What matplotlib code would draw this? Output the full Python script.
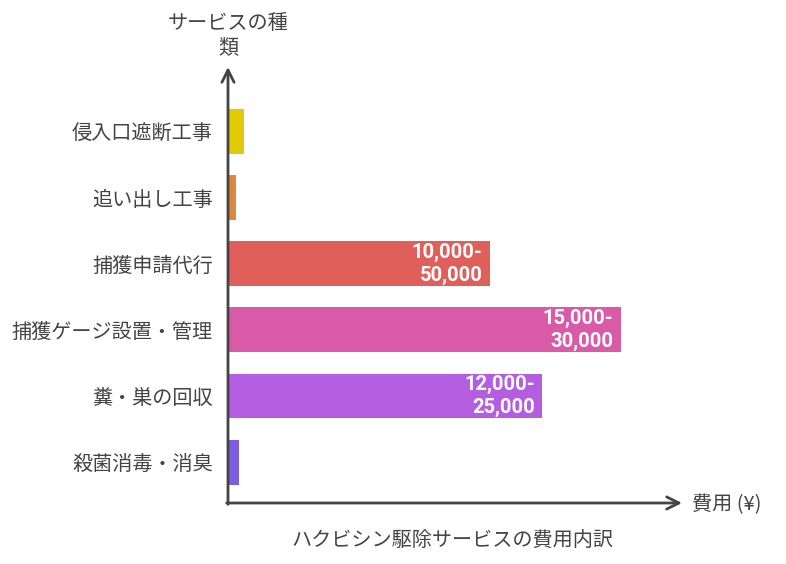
#!/usr/bin/env python

# ハクビシン駆除サービスの費用内訳 - horizontal bar chart with arrow axes

import matplotlib
matplotlib.use("Agg")
import matplotlib.pyplot as plt

plt.rcParams['font.family'] = ['Noto Sans CJK JP', 'DejaVu Sans']

services = ['侵入口遮断工事', '追い出し工事', '捕獲申請代行',
            '捕獲ゲージ設置・管理', '糞・巣の回収', '殺菌消毒・消臭']
costs = [1200, 600, 20000, 30000, 24000, 850]
cost_labels = ['', '', '10,000-\n50,000', '15,000-\n30,000', '12,000-\n25,000', '']
colors = ['#e2cb06', '#e0883a', '#e05f5a', '#d95ba7', '#b45de0', '#7b5fe0']

W, H = 786, 564
fig = plt.figure(figsize=(W / 100, H / 100), dpi=100)
left, right, bottom, top = 228, 682, 503, 67
ax = fig.add_axes([left / W, (H - bottom) / H, (right - left) / W, (bottom - top) / H])

ypos = list(range(len(services)))[::-1]
ax.barh(ypos, costs, height=0.68, color=colors, left=0)

ax.set_xlim(0, 30000 * (right - left) / 393)
ax.set_ylim(-0.62, 5.98)

for y, c, lab in zip(ypos, costs, cost_labels):
  if lab:
    ax.annotate(lab, xy=(c, y), xytext=(-5.5, 0), textcoords='offset points',
                ha='right', va='center', color='white', fontsize=14.5,
                fontweight='bold', family=['Roboto', 'DejaVu Sans'], linespacing=1.25)

ax.set_yticks(ypos)
ax.set_yticklabels(services, fontsize=14.5, color='#444444')
ax.set_xticks([])
ax.tick_params(axis='y', length=0, pad=11)
for s in ax.spines.values():
  s.set_visible(False)

axis_col = '#444444'
ax.annotate('', xy=(1.0, 0), xytext=(-0.003, 0), xycoords='axes fraction',
            arrowprops=dict(arrowstyle='->', lw=2, color=axis_col, mutation_scale=22,
                            shrinkA=0, shrinkB=0))
ax.annotate('', xy=(0, 1.0), xytext=(0, -0.003), xycoords='axes fraction',
            arrowprops=dict(arrowstyle='->', lw=2, color=axis_col, mutation_scale=22,
                            shrinkA=0, shrinkB=0))

fig.text(228 / W, 1 - 36 / H, 'サービスの種\n類', ha='center', va='center',
         fontsize=14.5, color=axis_col, linespacing=1.3)
fig.text(692 / W, 1 - 505 / H, '費用 (¥)', ha='left', va='center',
         fontsize=14.5, color=axis_col)
fig.text(452 / W, 1 - 540 / H, 'ハクビシン駆除サービスの費用内訳', ha='center', va='center',
         fontsize=14.5, color=axis_col)

fig.savefig('out.png', dpi=100)
